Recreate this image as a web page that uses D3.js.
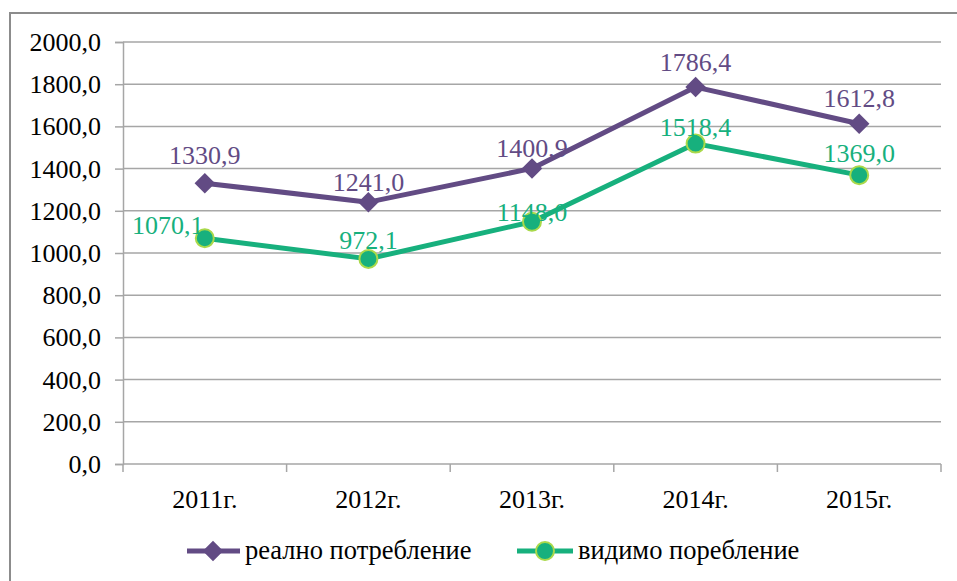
<!DOCTYPE html>
<html>
<head>
<meta charset="utf-8">
<script src="https://cdn.jsdelivr.net/npm/d3@7"></script>
</head>
<body style="margin:0;background:#fff">
<div id="container"></div>
<script>
/* DATA */
const years = ["2011г.", "2012г.", "2013г.", "2014г.", "2015г."];
const realValues = [1330.9, 1241.0, 1400.9, 1786.4, 1612.8];
const visibleValues = [1070.1, 972.1, 1148.0, 1518.4, 1369.0];
const yTicks = [0, 200, 400, 600, 800, 1000, 1200, 1400, 1600, 1800, 2000];
const seriesNames = ["реално потребление", "видимо поребление"];

/* CONSTANTS */
const width = 957, height = 581;
const margin = { top: 42, bottom: 117, left: 123, right: 16 };
const purple = "#624b84", green = "#17b07d", greenEdge = "#a9d94a";
const fmt = v => d3.format(".1f")(v).replace(".", ",");

/* SCALES */
const xBand = d3.scaleBand()
  .domain(years)
  .range([margin.left, width - margin.right]);
const xPos = d => xBand(d) + xBand.bandwidth() / 2;

const yScale = d3.scaleLinear()
  .domain([0, 2000])
  .range([height - margin.bottom, margin.top]);

const svg = d3.select("#container")
  .append("svg")
  .attr("width", width)
  .attr("height", height);

// outer frame
svg.append("rect")
  .attr("x", 10).attr("y", 13)
  .attr("width", 980).attr("height", 620)
  .attr("fill", "none")
  .attr("stroke", "#8c8c8c")
  .attr("stroke-width", 2);

// gridlines
svg.append("g")
  .selectAll("line")
  .data(yTicks.filter(d => d > 0))
  .join("line")
  .attr("x1", margin.left).attr("x2", width - margin.right)
  .attr("y1", d => yScale(d)).attr("y2", d => yScale(d))
  .attr("stroke", "#a6a6a6")
  .attr("stroke-width", 1.5);

// y axis
const yAxis = d3.axisLeft(yScale)
  .tickValues(yTicks)
  .tickSize(8)
  .tickPadding(14)
  .tickFormat(fmt);
const yg = svg.append("g")
  .attr("transform", `translate(${margin.left},0)`)
  .call(yAxis);
yg.select(".domain").attr("stroke", "#a6a6a6").attr("stroke-width", 1.5);
yg.selectAll(".tick line").attr("stroke", "#a6a6a6").attr("stroke-width", 1.5);
yg.selectAll("text").attr("font-size", 26).attr("fill", "#000").attr("dy", "0.33em");

// x axis, ticks at category boundaries
const xg = svg.append("g");
xg.append("line")
  .attr("x1", margin.left).attr("x2", width - margin.right)
  .attr("y1", yScale(0)).attr("y2", yScale(0))
  .attr("stroke", "#a6a6a6").attr("stroke-width", 1.5);
const bounds = years.map(d => xBand(d)).concat([xBand.range()[1]]);
xg.selectAll(".xt")
  .data(bounds)
  .join("line")
  .attr("x1", d => d).attr("x2", d => d)
  .attr("y1", yScale(0)).attr("y2", yScale(0) + 8)
  .attr("stroke", "#a6a6a6").attr("stroke-width", 1.5);
xg.selectAll(".xl")
  .data(years)
  .join("text")
  .attr("x", d => xPos(d))
  .attr("y", yScale(0) + 44)
  .attr("text-anchor", "middle")
  .attr("font-size", 26)
  .text(d => d);

const line = d3.line()
  .x((d, i) => xPos(years[i]))
  .y(d => yScale(d));

// lines
svg.append("path")
  .datum(realValues)
  .attr("d", line)
  .attr("fill", "none")
  .attr("stroke", purple)
  .attr("stroke-width", 5)
  .attr("stroke-linejoin", "round");
svg.append("path")
  .datum(visibleValues)
  .attr("d", line)
  .attr("fill", "none")
  .attr("stroke", green)
  .attr("stroke-width", 5)
  .attr("stroke-linejoin", "round");

// markers
const diamond = d3.symbol().type(d3.symbolSquare).size(210);
svg.selectAll(".dm")
  .data(realValues)
  .join("path")
  .attr("d", diamond)
  .attr("transform", (d, i) => `translate(${xPos(years[i])},${yScale(d)}) rotate(45)`)
  .attr("fill", purple);
svg.selectAll(".cm")
  .data(visibleValues)
  .join("circle")
  .attr("cx", (d, i) => xPos(years[i]))
  .attr("cy", d => yScale(d))
  .attr("r", 9)
  .attr("fill", green)
  .attr("stroke", greenEdge)
  .attr("stroke-width", 2);

// data labels (manual offsets as in the source)
const realOff = [[0, -19], [0, -11], [0, -11], [0, -16], [0, -17]];
const visOff = [[-37, -4], [0, -10], [0, -1], [0, -8], [0, -13]];
svg.selectAll(".rl")
  .data(realValues)
  .join("text")
  .attr("x", (d, i) => xPos(years[i]) + realOff[i][0])
  .attr("y", (d, i) => yScale(d) + realOff[i][1])
  .attr("text-anchor", "middle")
  .attr("font-size", 26)
  .attr("fill", purple)
  .text(fmt);
svg.selectAll(".vl")
  .data(visibleValues)
  .join("text")
  .attr("x", (d, i) => xPos(years[i]) + visOff[i][0])
  .attr("y", (d, i) => yScale(d) + visOff[i][1])
  .attr("text-anchor", "middle")
  .attr("font-size", 26)
  .attr("fill", green)
  .text(fmt);

// legend
const lg = svg.append("g");
const ly = 551;
lg.append("line").attr("x1", 187).attr("x2", 240).attr("y1", ly).attr("y2", ly)
  .attr("stroke", purple).attr("stroke-width", 5);
lg.append("path").attr("d", diamond)
  .attr("transform", `translate(213,${ly}) rotate(45)`).attr("fill", purple);
lg.append("text").attr("x", 245).attr("y", ly + 8).attr("font-size", 26.5)
  .text(seriesNames[0]);
lg.append("line").attr("x1", 517).attr("x2", 573).attr("y1", ly).attr("y2", ly)
  .attr("stroke", green).attr("stroke-width", 5);
lg.append("circle").attr("cx", 545).attr("cy", ly).attr("r", 9)
  .attr("fill", green).attr("stroke", greenEdge).attr("stroke-width", 2);
lg.append("text").attr("x", 578).attr("y", ly + 8).attr("font-size", 26.5)
  .text(seriesNames[1]);

// serif everywhere, set inline
svg.selectAll("text").style("font-family", "\"Liberation Serif\"");
</script>
</body>
</html>
